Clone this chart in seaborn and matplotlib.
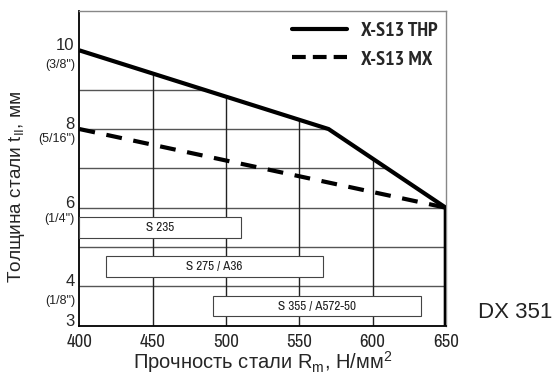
import matplotlib
matplotlib.use("Agg")
import matplotlib.pyplot as plt
import matplotlib.transforms as mtransforms
from matplotlib import font_manager as fm
from matplotlib.patches import Polygon
from matplotlib.lines import Line2D
import pandas as pd
import seaborn as sns

# Fastener X-S13 THP: max steel thickness vs. steel strength
thp_strength = [400, 570, 650, 650]
thp_thickness = [10, 8, 6, 3]

# Fastener X-S13 MX
mx_strength = [400, 650]
mx_thickness = [8, 6]

series_names = ["X-S13 THP", "X-S13 MX"]

# Steel grade strength ranges
grade_names = ["S 235", "S 275 / A36", "S 355 / A572-50"]
grade_min = [400, 418, 491]
grade_max = [510, 566, 633]
grade_row = [5.5, 4.5, 3.5]

x_ticks = [400, 450, 500, 550, 600, 650]
y_ticks = [3, 4, 6, 8, 10]
grid_x = [450, 500, 550, 600]
grid_y = [4, 5, 6, 7, 8, 9]
y_inch = {4: '(1/8")', 6: '(1/4")', 8: '(5/16")', 10: '(3/8")'}

# vertical gap (px) between a tick and its inch label
inch_gap = {4: 9, 6: 5, 8: 4, 10: 9}

sns.set_style("white")
REGULAR = ["Liberation Sans", "DejaVu Sans"]
plt.rcParams["font.family"] = REGULAR


def _weight(w):
    return fm.weight_dict.get(w, w) if isinstance(w, str) else w


# Pick a condensed sans family for ticks and legend when one is installed
_faces = {}
for f in fm.fontManager.ttflist:
    _faces.setdefault(f.name, set()).add(_weight(f.weight))
_cands = sorted(n for n in _faces if "Narrow" in n) + \
    sorted(n for n in _faces if "Condensed" in n)
_bold_cands = [n for n in _cands if max(_faces[n]) >= 600]

if _cands:
    NARROW = [_cands[0]] + REGULAR
    scale = 1.0
else:
    NARROW = REGULAR
    scale = 0.85
if _bold_cands:
    LEGEND_FONT = [_bold_cands[0]] + REGULAR
    leg_scale = 1.0
else:
    LEGEND_FONT = REGULAR
    leg_scale = 0.8

fig = plt.figure(figsize=(5.55, 3.75), dpi=100)
ax = fig.add_axes([0.1432, 0.1315, 0.660, 0.839])

thp = pd.DataFrame({"strength": thp_strength, "thickness": thp_thickness})
mx = pd.DataFrame({"strength": mx_strength, "thickness": mx_thickness})

sns.lineplot(data=thp, x="strength", y="thickness", estimator=None, sort=False,
             color="black", linewidth=3.0, ax=ax, zorder=5,
             solid_joinstyle="miter", solid_capstyle="butt")
sns.lineplot(data=mx, x="strength", y="thickness", estimator=None, sort=False,
             color="black", linewidth=3.0, ax=ax, zorder=5,
             linestyle=(0, (3.8, 2.8)), dash_capstyle="butt")

ax.set_xlim(400, 650)
ax.set_ylim(3, 11)

# Grid, drawn only in the region below the THP curve
clip = Polygon(list(zip(thp_strength + [400], thp_thickness + [3])), closed=True,
               transform=ax.transData, facecolor="none", edgecolor="none")
ax.add_patch(clip)
for v in grid_y:
    ln = ax.axhline(v, color="#555555", linewidth=1.0, zorder=1)
    ln.set_clip_path(clip)
for v in grid_x:
    ln = ax.axvline(v, color="#222222", linewidth=1.0, zorder=1)
    ln.set_clip_path(clip)

# Steel grade boxes
ax.barh(grade_row, [b - a for a, b in zip(grade_min, grade_max)], left=grade_min,
        height=0.52, color="white", edgecolor="#444444", linewidth=0.8, zorder=3)
for name, a, b, r in zip(grade_names, grade_min, grade_max, grade_row):
    ax.text((a + b) / 2, r, name, ha="center", va="center", fontsize=9.5 * scale,
            family=NARROW, color="#222222", zorder=4)

ax.set_xticks(x_ticks)
ax.set_xticklabels([str(v) for v in x_ticks], family=NARROW, fontsize=13.5 * scale)
ax.set_yticks(y_ticks)
ax.set_yticklabels([str(v) for v in y_ticks], family=REGULAR, fontsize=12)
for lbl in ax.get_yticklabels():
    lbl.set_verticalalignment("baseline")
ax.tick_params(axis="both", which="both", length=0)
ax.tick_params(axis="x", pad=6)
ax.tick_params(axis="y", pad=3.5)

# Inch equivalents under the mm tick labels
ytrans = mtransforms.blended_transform_factory(ax.transAxes, ax.transData)
for v, s in y_inch.items():
    off = mtransforms.ScaledTranslation(-4.5 / 100, -inch_gap[v] / 100,
                                        fig.dpi_scale_trans)
    ax.text(0, v, s, transform=ytrans + off, ha="right", va="top",
            fontsize=9, family=REGULAR, color="#222222")

for side in ["left", "bottom"]:
    ax.spines[side].set_color("black")
    ax.spines[side].set_linewidth(1.3)
for side in ["top", "right"]:
    ax.spines[side].set_color("#888888")
    ax.spines[side].set_linewidth(1.0)

ax.set_xlabel(r"Прочность стали R$_{\mathregular{m}}$, Н/мм$^{\mathregular{2}}$",
              fontsize=14.5, family=REGULAR)
ax.set_ylabel(r"Толщина стали t$_{\mathregular{II}}$, мм", fontsize=13.7, family=REGULAR)
ax.xaxis.set_label_coords(0.5, -0.074)
ax.yaxis.set_label_coords(-0.143, 0.44)

leg_size = 14.5 * leg_scale
handles = [Line2D([], [], color="black", linewidth=3.0),
           Line2D([], [], color="black", linewidth=3.0, linestyle=(0, (3.3, 1.7)))]
leg_px = leg_size * 100 / 72
ax.legend(handles, series_names, loc="upper right", bbox_to_anchor=(1.0, 0.99),
          frameon=False, handlelength=55 / leg_px, handletextpad=14 / leg_px,
          labelspacing=0.5, borderaxespad=0,
          prop={"family": LEGEND_FONT, "weight": "bold", "size": leg_size})

fig.text(478 / 555, (375 - 318) / 375, "DX 351", fontsize=16, family=REGULAR,
         ha="left", va="baseline", color="#222222")

fig.savefig("out.png", dpi=100)
